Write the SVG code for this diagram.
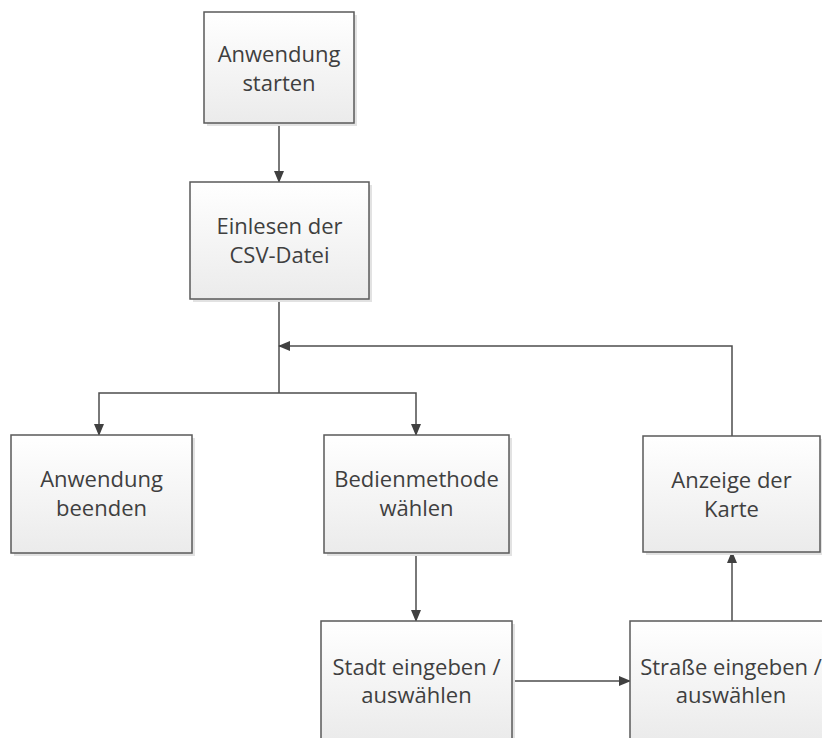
<svg xmlns="http://www.w3.org/2000/svg" width="822" height="738" viewBox="0 0 822 738">
<style>
.box{fill:url(#g);stroke:#5a5a5a;stroke-width:1.5}
.sh{fill:#e2e2e2}
.t{font-family:"Open Sans","Liberation Sans",sans-serif;font-size:22px;fill:#3f3f3f;text-anchor:middle}
.c{fill:none;stroke:#4d4d4d;stroke-width:1.5}
</style>
<defs>
<linearGradient id="g" x1="0" y1="0" x2="0" y2="1">
<stop offset="0" stop-color="#ffffff"/>
<stop offset="1" stop-color="#ebebeb"/>
</linearGradient>
<marker id="a" markerUnits="userSpaceOnUse" markerWidth="12" markerHeight="10" refX="11" refY="5" orient="auto">
<path d="M0,0 L12,5 L0,10 Z" fill="#404040"/>
</marker>
</defs>
<rect width="822" height="738" fill="#ffffff"/>
<g id="connectors">
<path class="c" d="M279,123 V182" marker-end="url(#a)"/>
<path class="c" d="M279,299 V393"/>
<path class="c" d="M279,393 H99 V435" marker-end="url(#a)"/>
<path class="c" d="M279,393 H416 V435" marker-end="url(#a)"/>
<path class="c" d="M416,553 V621" marker-end="url(#a)"/>
<path class="c" d="M512,681 H630" marker-end="url(#a)"/>
<path class="c" d="M732,621 V552" marker-end="url(#a)"/>
<path class="c" d="M732,436 V346 H279" marker-end="url(#a)"/>
</g>
<g id="n1">
<rect class="sh" x="207" y="15" width="150" height="111"/>
<rect class="box" x="204" y="12" width="150" height="111"/>
<text class="t" x="279" y="62">Anwendung</text>
<text class="t" x="279" y="91">starten</text>
</g>
<g id="n2">
<rect class="sh" x="193" y="185" width="179" height="117"/>
<rect class="box" x="190" y="182" width="179" height="117"/>
<text class="t" x="279.5" y="234">Einlesen der</text>
<text class="t" x="279.5" y="263">CSV-Datei</text>
</g>
<g id="n3">
<rect class="sh" x="14" y="438" width="181" height="118"/>
<rect class="box" x="11" y="435" width="181" height="118"/>
<text class="t" x="101.5" y="487">Anwendung</text>
<text class="t" x="101.5" y="516">beenden</text>
</g>
<g id="n4">
<rect class="sh" x="327" y="438" width="185" height="118"/>
<rect class="box" x="324" y="435" width="185" height="118"/>
<text class="t" x="416.5" y="487">Bedienmethode</text>
<text class="t" x="416.5" y="516">wählen</text>
</g>
<g id="n5">
<rect class="sh" x="646" y="439" width="177" height="116"/>
<rect class="box" x="643" y="436" width="177" height="116"/>
<text class="t" x="731.5" y="488">Anzeige der</text>
<text class="t" x="731.5" y="517">Karte</text>
</g>
<g id="n6">
<rect class="sh" x="324" y="624" width="191" height="118"/>
<rect class="box" x="321" y="621" width="191" height="118"/>
<text class="t" x="416.5" y="675">Stadt eingeben /</text>
<text class="t" x="416.5" y="703">auswählen</text>
</g>
<g id="n7">
<rect class="sh" x="633" y="624" width="202" height="118"/>
<rect class="box" x="630" y="621" width="202" height="118"/>
<text class="t" x="731" y="675">Straße eingeben /</text>
<text class="t" x="731" y="703">auswählen</text>
</g>
</svg>
